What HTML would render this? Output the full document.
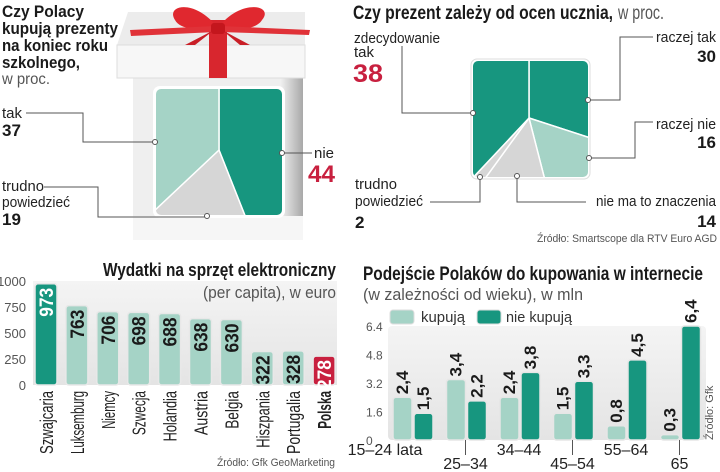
<!DOCTYPE html>
<html><head><meta charset="utf-8"><style>
html,body{margin:0;padding:0;background:#fff;}
svg{display:block;font-family:"Liberation Sans Narrow","Liberation Sans",sans-serif;}
.b{font-weight:bold;fill:#1a1a1a}
.l{fill:#555}
</style></head><body>
<svg id="s" width="720" height="472" viewBox="0 0 720 472" xmlns="http://www.w3.org/2000/svg">
<defs>
<linearGradient id="bg" x1="0" y1="0" x2="0" y2="1"><stop offset="0" stop-color="#f4f4f4"/><stop offset="1" stop-color="#e4e4e4"/></linearGradient>
<linearGradient id="sh" x1="0" y1="0" x2="1" y2="0"><stop offset="0" stop-color="#f2f2f2"/><stop offset="1" stop-color="#a8a8a8"/></linearGradient>
<clipPath id="c1"><rect x="155" y="88" width="128" height="128" rx="6"/></clipPath>
<clipPath id="c2"><rect x="473" y="61" width="115" height="116" rx="5"/></clipPath>
</defs>

<g>
<rect x="133" y="76" width="170" height="164" fill="#efefef"/>
<polygon points="280,78 303,78 303,240 280,216" fill="url(#sh)"/>
<rect x="133" y="216" width="170" height="24" fill="#f6f6f6"/>
<polygon points="128,12 305,12 305,45 117,45" fill="#ececec"/>
<rect x="117" y="45" width="188" height="33" fill="#f7f7f7" stroke="#ddd"/>
<rect x="209" y="20" width="18" height="58" fill="#d8262e"/>
<path d="M218,28 C195,-2 165,5 175,20 C180,30 200,30 218,30 Z" fill="#e0282f"/>
<path d="M218,28 C240,-2 275,5 262,20 C256,30 236,30 218,30 Z" fill="#e0282f"/>
<path d="M130,30 L216,26 L216,32 L131,36 Z" fill="#e03238"/>
<path d="M220,26 L310,30 L309,35 L220,32 Z" fill="#e03238"/>
<path d="M214,30 L185,45 L195,45 Z" fill="#c91f27"/>
<path d="M222,30 L250,45 L240,45 Z" fill="#c91f27"/>
<rect x="211" y="23" width="14" height="11" rx="3" fill="#c4161d"/>
<rect x="153" y="86" width="132" height="132" rx="7" fill="#fff"/>
</g>
<g id="pie1" clip-path="url(#c1)"></g>
<rect x="155" y="88" width="128" height="128" rx="6" fill="none" stroke="#fff" stroke-width="2"/>

<g font-size="17" class="b">
<text x="2" y="17" class="b" textLength="82" lengthAdjust="spacingAndGlyphs">Czy Polacy</text>
<text x="2" y="34" class="b" textLength="116" lengthAdjust="spacingAndGlyphs">kupują prezenty</text>
<text x="2" y="51" class="b" textLength="106" lengthAdjust="spacingAndGlyphs">na koniec roku</text>
<text x="2" y="68" class="b" textLength="78" lengthAdjust="spacingAndGlyphs">szkolnego,</text>
</g>
<text x="2" y="84" font-size="16" class="l" textLength="48" lengthAdjust="spacingAndGlyphs">w proc.</text>
<g fill="none" stroke="#555" stroke-width="1">
<polyline points="26,113 83,113 83,142 154,142"/>
<polyline points="44,187 98,187 98,217 207,217"/>
<polyline points="283,153 312,153"/>
</g>
<g fill="#fff" stroke="#555"><circle cx="155" cy="142" r="2.5"/><circle cx="207" cy="216" r="2.5"/><circle cx="282" cy="153" r="2.5"/></g>
<text x="2" y="118" font-size="15" fill="#222">tak</text>
<text x="2" y="136" font-size="17" class="b">37</text>
<text x="2" y="191" font-size="15" fill="#222" textLength="42" lengthAdjust="spacingAndGlyphs">trudno</text>
<text x="2" y="207" font-size="15" fill="#222" textLength="68" lengthAdjust="spacingAndGlyphs">powiedzieć</text>
<text x="2" y="225" font-size="17" class="b">19</text>
<text x="314" y="158" font-size="15" fill="#222">nie</text>
<text x="308" y="182" font-size="24" font-weight="bold" fill="#c8203f" textLength="27" lengthAdjust="spacingAndGlyphs">44</text>

<text x="353" y="19" font-size="19"><tspan class="b" textLength="260" lengthAdjust="spacingAndGlyphs">Czy prezent zależy od ocen ucznia,</tspan><tspan class="l" font-weight="normal" x="618" textLength="46" lengthAdjust="spacingAndGlyphs">w proc.</tspan></text>
<rect x="471" y="59" width="119" height="120" rx="6" fill="#fff" stroke="#ddd"/>
<g id="pie2" clip-path="url(#c2)"></g>
<g fill="none" stroke="#555">
<polyline points="402,46 402,113 472,113"/>
<polyline points="588,100 620,100 620,37 653,37"/>
<polyline points="589,158 635,158 635,122 653,122"/>
<polyline points="480,177 480,202 430,202"/>
<polyline points="517,176 517,202 586,202"/>
</g>
<g fill="#fff" stroke="#555"><circle cx="473" cy="113" r="2.5"/><circle cx="588" cy="100" r="2.5"/><circle cx="589" cy="158" r="2.5"/><circle cx="480" cy="177" r="2.5"/><circle cx="517" cy="176" r="2.5"/></g>
<text x="354" y="43" font-size="15" fill="#222" textLength="86" lengthAdjust="spacingAndGlyphs">zdecydowanie</text>
<text x="354" y="57" font-size="15" fill="#222">tak</text>
<text x="353" y="82" font-size="25" font-weight="bold" fill="#c8203f" textLength="30" lengthAdjust="spacingAndGlyphs">38</text>
<text x="716" y="42" font-size="15" fill="#222" text-anchor="end" textLength="60" lengthAdjust="spacingAndGlyphs">raczej tak</text>
<text x="716" y="62" font-size="17" class="b" text-anchor="end">30</text>
<text x="716" y="129" font-size="15" fill="#222" text-anchor="end" textLength="60" lengthAdjust="spacingAndGlyphs">raczej nie</text>
<text x="716" y="148" font-size="17" class="b" text-anchor="end">16</text>
<text x="355" y="189" font-size="15" fill="#222" textLength="42" lengthAdjust="spacingAndGlyphs">trudno</text>
<text x="355" y="206" font-size="15" fill="#222" textLength="68" lengthAdjust="spacingAndGlyphs">powiedzieć</text>
<text x="355" y="228" font-size="17" class="b">2</text>
<text x="716" y="206" font-size="15" fill="#222" text-anchor="end" textLength="120" lengthAdjust="spacingAndGlyphs">nie ma to znaczenia</text>
<text x="716" y="227" font-size="17" class="b" text-anchor="end">14</text>
<text x="717" y="242" font-size="11" fill="#555" text-anchor="end" textLength="180" lengthAdjust="spacingAndGlyphs">Źródło: Smartscope dla RTV Euro AGD</text>

<rect x="33" y="281" width="304" height="104" fill="url(#bg)"/>
<g id="bar1"></g>
<text x="336" y="276" font-size="18" class="b" text-anchor="end" textLength="233" lengthAdjust="spacingAndGlyphs">Wydatki na sprzęt elektroniczny</text>
<text x="336" y="298" font-size="17" class="l" text-anchor="end" textLength="133" lengthAdjust="spacingAndGlyphs">(per capita), w euro</text>
<text x="335" y="466" font-size="11" fill="#555" text-anchor="end" textLength="118" lengthAdjust="spacingAndGlyphs">Źródło: Gfk GeoMarketing</text>

<text x="363" y="280" font-size="19" class="b" textLength="340" lengthAdjust="spacingAndGlyphs">Podejście Polaków do kupowania w internecie</text>
<text x="363" y="300" font-size="17" class="l" textLength="220" lengthAdjust="spacingAndGlyphs">(w zależności od wieku), w mln</text>
<g>
<rect x="390" y="310" width="24" height="14" rx="3" fill="#a5d3c6" stroke="#ddd"/>
<text x="421" y="322" font-size="15" fill="#333" textLength="44" lengthAdjust="spacingAndGlyphs">kupują</text>
<rect x="477" y="310" width="24" height="14" rx="3" fill="#17967f" stroke="#ddd"/>
<text x="506" y="322" font-size="15" fill="#333" textLength="66" lengthAdjust="spacingAndGlyphs">nie kupują</text>
</g>
<rect x="388" y="326" width="318" height="114" fill="url(#bg)" rx="4"/>
<g id="bar2"></g>
<text transform="translate(713,440) rotate(-90)" font-size="11" fill="#555">Źródło: Gfk</text>
</svg>
<script>
const NS='http://www.w3.org/2000/svg';
const pie1Labels=['nie','trudno powiedzieć','tak'];
const pie1Values=[44,19,37];
const pie1Colors=['#17967f','#d6d6d6','#a5d3c6'];
const pie2Labels=['raczej tak','raczej nie','nie ma to znaczenia','trudno powiedzieć','zdecydowanie tak'];
const pie2Values=[30,16,14,2,38];
const pie2Colors=['#17967f','#a5d3c6','#d6d6d6','#d6d6d6','#17967f'];
const spendCountries=['Szwajcaria','Luksemburg','Niemcy','Szwecja','Holandia','Austria','Belgia','Hiszpania','Portugalia','Polska'];
const spendValues=[973,763,706,698,688,638,630,322,328,278];
const spendTicks=[0,250,500,750,1000];
const ageGroups=['15–24 lata','25–34','34–44','45–54','55–64','65'];
const buyValues=[2.4,3.4,2.4,1.5,0.8,0.3];
const notBuyValues=[1.5,2.2,3.8,3.3,4.5,6.4];
const ageTicks=[0,1.6,3.2,4.8,6.4];

function mk(tag,attrs,parent){const e=document.createElementNS(NS,tag);for(const k in attrs)e.setAttribute(k,attrs[k]);parent.appendChild(e);return e;}

function drawPie(id,cx,cy,values,colors,labels){
  const g=document.getElementById(id);const tot=values.reduce((a,b)=>a+b,0);const R=200;let a=0;
  values.forEach((v,i)=>{
    const a0=a/tot*2*Math.PI,a1=(a+v)/tot*2*Math.PI;a+=v;
    const x0=cx+R*Math.sin(a0),y0=cy-R*Math.cos(a0),x1=cx+R*Math.sin(a1),y1=cy-R*Math.cos(a1);
    const p=mk('path',{d:`M${cx},${cy}L${x0},${y0}A${R},${R} 0 ${a1-a0>Math.PI?1:0} 1 ${x1},${y1}Z`,fill:colors[i],stroke:'#fff','stroke-width':1.5},g);
    
    
  });
}
drawPie('pie1',219,150,pie1Values,pie1Colors,pie1Labels);
drawPie('pie2',529,118,pie2Values,pie2Colors,pie2Labels);

(function(){
  const g=document.getElementById('bar1');
  const y=v=>385-v/1000*104;const x=i=>46+i*30.9;
  spendTicks.forEach(t=>{
    const tl=mk('text',{x:26,y:y(t)+5,'font-size':13,fill:'#555','text-anchor':'end'},g);tl.textContent=t;
    
    
  });
  spendValues.forEach((v,i)=>{
    const last=i===spendValues.length-1,first=i===0;
    const fill=first?'#17967f':last?'#c8203f':'#a5d3c6';
    const r=mk('rect',{x:x(i)-11,y:y(v),width:22,height:385-y(v),rx:3,fill:fill,stroke:'#e8e8e8','stroke-width':1.5},g);
    
    
    const t=mk('text',{transform:`translate(${x(i)+7},${y(v)+4}) rotate(-90)`,'font-size':19,'font-weight':'bold',fill:(first||last)?'#fff':'#1a1a1a','text-anchor':'end',textLength:29,lengthAdjust:'spacingAndGlyphs'},g);
    t.textContent=v;
    
    
    const c=mk('text',{transform:`translate(${x(i)+7},${391}) rotate(-90)`,'font-size':18,fill:'#222','font-weight':last?'bold':'normal','text-anchor':'end',textLength:spendCountries[i].length*6.3,lengthAdjust:'spacingAndGlyphs'},g);
    c.textContent=spendCountries[i];
    
    
  });
})();

(function(){
  const g=document.getElementById('bar2');
  const y=v=>440-v/6.4*114;const cx=i=>413+i*53.5;
  ageTicks.forEach(t=>{
    const tl=mk('text',{x:366,y:y(t)+5,'font-size':12,fill:'#555'},g);tl.textContent=String(t);
    
    
  });
  ageGroups.forEach((a,i)=>{
    [[buyValues[i],cx(i)-20,'#a5d3c6'],[notBuyValues[i],cx(i)+1,'#17967f']].forEach(([v,x0,col],k)=>{
      const r=mk('rect',{x:x0,y:y(v),width:19,height:440-y(v),rx:3,fill:col,stroke:'#e6e6e6','stroke-width':1.5},g);
      
      
      const t=mk('text',{transform:`translate(${x0+15},${y(v)-3}) rotate(-90)`,'font-size':17,'font-weight':'bold',fill:'#1a1a1a'},g);
      t.textContent=String(v).replace('.',',');
      
      
    });
    const low=i%2===1;const ly=low?469:455;
    if(low) mk('line',{x1:cx(i)-1,y1:440,x2:cx(i)-1,y2:455,stroke:'#555'},g);
    const lt=mk('text',{x:i===0?cx(i)-28:cx(i)-1,y:ly,'font-size':16,fill:'#222','text-anchor':'middle'},g);
    lt.textContent=a;
    
    
  });
})();
</script>
</body></html>
